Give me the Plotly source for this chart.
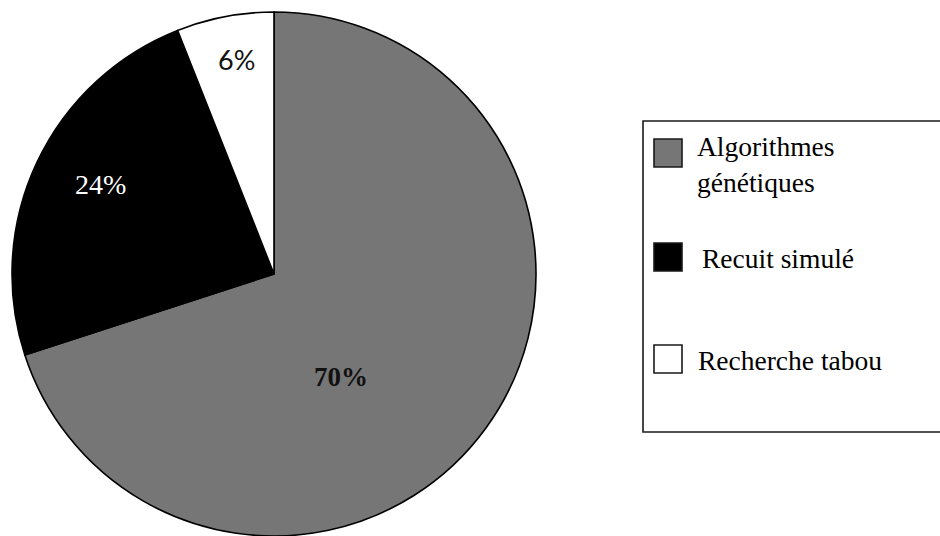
import math
import plotly.graph_objects as go

# Share of each metaheuristic family (percent)
methods = ["Algorithmes génétiques", "Recuit simulé", "Recherche tabou"]
legend_text = ["Algorithmes<br>génétiques", "Recuit simulé", "Recherche tabou"]
shares = [70, 24, 6]
colors = ["#767676", "#000000", "#ffffff"]

W, H = 940, 536
cx, cy, r = 274, 274, 262  # pie centre and radius in pixels


def px(x):
    return x / W


def py(y):
    return 1 - y / H


fig = go.Figure()
fig.add_trace(go.Pie(
    labels=methods,
    values=shares,
    sort=False,
    direction="clockwise",
    rotation=0,
    marker=dict(colors=colors, line=dict(color="#000000", width=1.6)),
    textinfo="none",
    hoverinfo="label+percent",
    showlegend=False,
    domain=dict(x=[px(cx - r), px(cx + r)], y=[py(cy + r), py(cy - r)]),
))

# Percentage labels placed along each slice's bisector
label_radius = [0.47, 0.745, 0.83]
label_nudge = [21, 2, 1]  # degrees, clockwise
label_fonts = [
    dict(family="Liberation Serif", size=27, color="#111111"),
    dict(family="Liberation Serif", size=28, color="#ffffff"),
    dict(family="Lato", size=27, color="#111111"),
]
label_text = ["<b>%d%%</b>" % shares[0], "%d%%" % shares[1], "%d%%" % shares[2]]
total = sum(shares)
start = 0.0
for i, v in enumerate(shares):
    span = 360.0 * v / total
    mid = math.radians(start + span / 2 + label_nudge[i])
    start += span
    lx = cx + label_radius[i] * r * math.sin(mid)
    ly = cy - label_radius[i] * r * math.cos(mid)
    fig.add_annotation(x=px(lx), y=py(ly), xref="paper", yref="paper",
                       text=label_text[i], showarrow=False,
                       xanchor="center", yanchor="middle", font=label_fonts[i])

# Legend frame
fig.add_shape(type="rect", xref="paper", yref="paper",
              x0=px(643), x1=px(948), y0=py(432), y1=py(121),
              line=dict(color="#1a1a1a", width=1.6), fillcolor="rgba(0,0,0,0)")

# Legend swatches and entries
swatch_top = [139, 243, 345]
text_y = [164, 258, 360]
text_x = [695, 700, 696]
for i in range(len(methods)):
    fig.add_shape(type="rect", xref="paper", yref="paper",
                  x0=px(654), x1=px(682),
                  y0=py(swatch_top[i] + 28), y1=py(swatch_top[i]),
                  line=dict(color="#1a1a1a", width=1.6), fillcolor=colors[i])
    fig.add_annotation(x=px(text_x[i]), y=py(text_y[i]), xref="paper", yref="paper",
                       text=legend_text[i], showarrow=False, align="left",
                       xanchor="left", yanchor="middle",
                       font=dict(family="Liberation Serif", size=27.5, color="#000000"))

fig.update_layout(
    width=W, height=H,
    margin=dict(l=0, r=0, t=0, b=0),
    paper_bgcolor="#ffffff",
    plot_bgcolor="#ffffff",
)

fig.write_html("out.html")
